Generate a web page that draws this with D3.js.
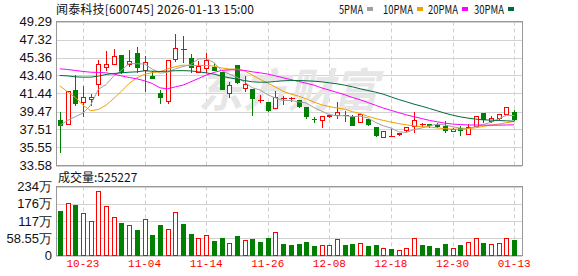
<!DOCTYPE html>
<html>
<head>
<meta charset="utf-8">
<script src="https://cdn.jsdelivr.net/npm/d3@7/dist/d3.min.js"></script>
<style>
	body { margin: 0; background: #fff; }
	svg text { font-family: "Noto Sans CJK SC", "Liberation Sans", sans-serif; }
</style>
</head>
<body>
<div id="root"></div>
<script>
const title = "闻泰科技[600745] 2026-01-13 15:00";
const volumeLabel = "成交量:525227";

const dates = ["10-20","10-21","10-22","10-23","10-24","10-27","10-28","10-29","10-30","10-31",
	"11-03","11-04","11-05","11-06","11-07","11-10","11-11","11-12","11-13","11-14",
	"11-17","11-18","11-19","11-20","11-21","11-24","11-25","11-26","11-27","11-28",
	"12-01","12-02","12-03","12-04","12-05","12-08","12-09","12-10","12-11","12-12",
	"12-15","12-16","12-17","12-18","12-19","12-22","12-23","12-24","12-25","12-26",
	"12-29","12-30","12-31","01-05","01-06","01-07","01-08","01-09","01-12","01-13"];

const opens = [38.53,38.16,41.80,40.56,40.85,42.42,44.38,44.60,45.62,44.67,
	45.84,44.02,43.33,41.44,40.64,45.15,46.24,45.36,43.80,44.27,
	44.35,43.80,41.51,44.53,42.05,41.95,40.75,40.49,39.87,40.93,
	40.96,40.78,39.95,38.67,38.49,39.00,39.11,39.11,38.89,38.38,
	38.60,37.73,36.64,36.85,36.98,37.44,37.87,38.16,38.13,37.98,
	37.87,37.29,37.62,37.07,37.87,39.36,38.45,38.78,39.25,39.40];
const highs = [39.55,41.80,43.55,42.35,41.47,45.15,46.16,46.38,45.73,46.27,
	46.60,45.62,43.98,41.98,45.04,48.02,47.80,45.80,45.07,45.95,
	44.82,43.80,42.78,44.53,43.44,41.95,41.36,40.60,41.80,41.22,
	41.18,40.78,40.05,39.00,39.11,39.25,40.60,39.62,39.15,39.25,
	38.71,37.73,37.29,37.62,37.18,37.87,39.55,38.35,38.20,38.31,
	38.49,37.80,37.95,38.27,39.04,39.36,39.07,39.25,40.02,39.69];
const lows = [35.00,38.10,40.16,38.96,40.13,41.29,43.98,44.60,43.62,44.45,
	43.80,41.73,43.15,40.42,40.35,45.00,44.89,43.73,43.80,43.73,
	43.98,41.91,41.07,42.53,41.69,39.11,40.53,39.55,39.87,40.24,
	40.64,39.98,38.75,38.35,37.80,38.89,38.78,38.45,37.98,38.31,
	38.05,36.78,36.64,36.78,36.87,37.33,37.25,37.87,37.73,37.73,
	37.22,37.29,36.93,37.07,37.87,38.35,38.38,38.67,39.15,38.53];
const closes = [38.02,41.76,40.42,41.00,41.00,44.60,44.64,45.51,43.80,45.00,
	44.35,44.82,43.15,41.07,45.04,46.35,46.24,44.35,44.42,45.07,
	43.98,41.98,42.31,42.64,42.45,40.93,40.75,39.62,41.07,40.93,
	40.96,40.05,39.00,38.60,38.93,39.07,39.40,39.11,38.05,39.15,
	38.13,36.93,37.29,36.85,37.10,37.73,38.53,38.16,38.05,37.91,
	37.40,37.55,37.40,37.80,38.93,38.60,38.75,39.15,39.91,38.67];
// 万手
const volumes = [152,178,172,144,116,219,168,130,111,103,
	87,123,70,103,89,147,106,72,58,68,
	48,59,41,65,51,55,44.5,58,79,38,
	34,38,44.5,31,34,34,55,34,38,43,
	31,34,26,20.5,19,27,58,34,31,27,
	38,24,34,47,58,41,38,41,58,52.52];

const ma5 = [37.95,38.50,38.90,39.30,40.15,41.90,42.40,43.35,43.95,44.71,
	44.68,44.65,44.10,43.66,43.75,44.12,44.37,44.61,45.20,45.25,
	44.81,43.96,43.55,43.20,42.67,42.06,41.82,41.28,40.96,40.66,
	40.67,40.53,40.40,39.91,39.51,39.13,39.00,39.02,38.91,38.96,
	38.77,38.27,37.91,37.67,37.26,37.18,37.50,37.67,37.91,38.08,
	38.01,37.81,37.66,37.61,37.82,38.06,38.30,38.65,39.07,39.02];
const ma10 = [42.27,41.62,41.00,40.16,39.55,39.69,40.16,40.89,41.69,42.53,
	43.15,43.52,43.72,43.80,44.12,44.36,44.53,44.48,44.50,44.49,
	44.43,44.22,44.10,44.10,43.90,43.44,42.98,42.55,42.15,41.68,
	41.38,41.15,40.85,40.50,40.20,40.00,39.85,39.72,39.45,39.25,
	38.95,38.70,38.50,38.32,38.15,38.02,37.90,37.80,37.78,37.68,
	37.60,37.55,37.53,37.58,37.70,37.85,37.98,38.10,38.25,38.38];
const ma20 = [44.13,44.05,43.95,43.84,43.76,43.73,43.69,43.55,43.36,43.18,
	43.04,42.82,42.53,42.05,41.95,42.16,42.35,42.71,43.07,43.44,
	43.73,43.95,44.02,44.02,43.95,43.80,43.69,43.55,43.36,43.15,
	42.95,42.75,42.55,42.35,42.05,41.80,41.55,41.30,41.00,40.75,
	40.45,40.15,39.85,39.60,39.35,39.10,38.90,38.70,38.50,38.35,
	38.20,38.10,38.05,38.00,38.00,37.98,37.98,37.98,38.00,38.02];
const ma30 = [43.40,43.36,43.25,43.22,43.22,43.33,43.51,43.62,43.69,43.76,
	43.80,43.91,43.87,43.84,43.87,43.92,43.93,43.90,43.80,43.69,
	43.55,43.33,43.15,43.00,42.85,42.71,42.67,42.67,42.75,42.82,
	42.85,42.85,42.82,42.78,42.71,42.60,42.49,42.35,42.16,41.95,
	41.76,41.58,41.36,41.07,40.78,40.53,40.27,40.05,39.80,39.55,
	39.29,39.07,38.89,38.75,38.64,38.56,38.53,38.49,38.45,38.42];

const priceTicks = [33.58, 35.55, 37.51, 39.47, 41.44, 43.40, 45.36, 47.32, 49.29];
const volumeTicks = [0, 58.55, 117.1, 175.65, 234.2];
const volumeTickLabels = ["0", "58.55万", "117万", "176万", "234万"];
const dateTicks = ["10-23", "11-04", "11-14", "11-26", "12-08", "12-18", "12-30", "01-13"];
const maNames = ["5PMA", "10PMA", "20PMA", "30PMA"];
const maColors = ["#a0a0a0", "#f0a000", "#ff00ff", "#006b3a"];

const RED = "#ff0000";
const GREEN = "#008000";

const size = { width: 578, height: 276 };
const frame = { left: 56, right: 522, top: 21.5, bottom: 165.5, volTop: 186.5, volBottom: 255.5 };

const svg = d3.select("#root")
	.append("svg")
		.attr("width", size.width)
		.attr("height", size.height);

const x = d3.scaleBand()
	.domain(d3.range(dates.length))
	.range([frame.left, 518]);
const cx = i => Math.round(x(i) + x.bandwidth() / 2) + 0.5;

const y = d3.scaleLinear()
	.domain([priceTicks[0], priceTicks[priceTicks.length - 1]])
	.range([frame.bottom, frame.top]);
const py = v => Math.round(y(v)) + 0.5;

const yVol = d3.scaleLinear()
	.domain([0, volumeTicks[volumeTicks.length - 1]])
	.range([frame.volBottom, frame.volTop]);

// price grid + labels
const priceAxis = svg.append("g")
	.attr("transform", `translate(${frame.left},0)`)
	.call(d3.axisLeft(y)
		.tickValues(priceTicks)
		.tickSize(-(frame.right - frame.left))
		.tickPadding(4)
		.tickFormat(d3.format(".2f")));

const volAxis = svg.append("g")
	.attr("transform", `translate(${frame.left},0)`)
	.call(d3.axisLeft(yVol)
		.tickValues(volumeTicks)
		.tickSize(-(frame.right - frame.left))
		.tickPadding(4)
		.tickFormat((d, i) => volumeTickLabels[i]));

[priceAxis, volAxis].forEach(ax => {
	ax.select(".domain").remove();
	ax.selectAll(".tick line")
		.attr("stroke", "#d2d2d2")
		.attr("shape-rendering", "crispEdges");
	ax.selectAll(".tick text")
		.attr("fill", "#111")
		.style("font-family", "'Liberation Sans', Arial, sans-serif")
		.style("font-size", "13px");
});

// vertical dashed date lines
const tickIdx = dateTicks.map(d => dates.indexOf(d));
[[frame.top, frame.bottom], [frame.volTop, frame.volBottom]].forEach(([t, b]) => {
	svg.append("g")
		.selectAll("line")
		.data(tickIdx).enter()
		.append("line")
			.attr("x1", cx).attr("x2", cx)
			.attr("y1", t).attr("y2", b)
			.attr("stroke", "#cfcfcf")
			.attr("stroke-dasharray", "4,3");
});

// watermark
svg.append("text")
	.attr("x", 198).attr("y", 107)
	.attr("fill", "#e6e6e6")
	.attr("textLength", 180)
	.attr("lengthAdjust", "spacingAndGlyphs")
	.style("font-size", "46px")
	.style("font-weight", "bold")
	.style("font-style", "italic")
	.text("东方财富");

// frames
[[frame.top, frame.bottom], [frame.volTop, frame.volBottom]].forEach(([t, b]) => {
	svg.append("rect")
		.attr("x", frame.left + 0.5).attr("y", t)
		.attr("width", frame.right - frame.left).attr("height", b - t)
		.attr("fill", "none")
		.attr("stroke", "#999")
		.attr("shape-rendering", "crispEdges");
});

// candles
const candles = svg.append("g")
	.selectAll(".candle")
	.data(dates.map((d, i) => ({ i, o: opens[i], h: highs[i], l: lows[i], c: closes[i] })))
	.enter()
	.append("g")
		.attr("class", "candle")
		.attr("shape-rendering", "crispEdges");

candles.each(function (d) {
	const g = d3.select(this);
	const up = d.c >= d.o;
	const col = up ? RED : GREEN;
	const top = py(Math.max(d.o, d.c));
	const bot = py(Math.min(d.o, d.c));
	const xc = cx(d.i);
	g.append("line")
		.attr("x1", xc).attr("x2", xc)
		.attr("y1", py(d.h)).attr("y2", top)
		.attr("stroke", col);
	g.append("line")
		.attr("x1", xc).attr("x2", xc)
		.attr("y1", bot).attr("y2", py(d.l))
		.attr("stroke", col);
	if (d.c > d.o) {
		g.append("rect")
			.attr("x", xc - 2).attr("y", top)
			.attr("width", 4).attr("height", Math.max(1, bot - top))
			.attr("fill", "#fff").attr("stroke", RED);
	} else if (d.c < d.o) {
		g.append("rect")
			.attr("x", xc - 2.5).attr("y", top - 0.5)
			.attr("width", 5).attr("height", Math.max(1, bot - top + 1))
			.attr("fill", GREEN);
	} else {
		g.append("line")
			.attr("x1", xc - 3).attr("x2", xc + 3)
			.attr("y1", top).attr("y2", top)
			.attr("stroke", RED);
	}
});

// moving averages
const line = d3.line()
	.x((d, i) => x(i) + x.bandwidth() / 2)
	.y(d => y(d));

[ma5, ma10, ma20, ma30].forEach((series, k) => {
	svg.append("path")
		.datum(series)
		.attr("d", line)
		.attr("fill", "none")
		.attr("stroke", maColors[k])
		.attr("stroke-width", 1);
});

// volume bars
svg.append("g")
	.attr("shape-rendering", "crispEdges")
	.selectAll(".vol")
	.data(volumes)
	.enter()
	.append("rect")
		.attr("class", "vol")
		.each(function (v, i) {
			const up = closes[i] > opens[i];
			const xc = cx(i);
			const t = Math.round(yVol(v)) + 0.5;
			const r = d3.select(this);
			if (up) {
				r.attr("x", xc - 2).attr("y", t)
					.attr("width", 4).attr("height", frame.volBottom - t)
					.attr("fill", "#fff").attr("stroke", RED);
			} else {
				r.attr("x", xc - 2.5).attr("y", t - 0.5)
					.attr("width", 5).attr("height", frame.volBottom - t + 0.5)
					.attr("fill", GREEN);
			}
		});

// date labels
const dateAxis = svg.append("g")
	.attr("transform", `translate(0,${frame.volBottom})`)
	.call(d3.axisBottom(x)
		.tickValues(tickIdx)
		.tickSize(0)
		.tickPadding(4)
		.tickFormat(i => dates[i]));
dateAxis.select(".domain").remove();
dateAxis.selectAll(".tick text")
	.attr("fill", RED)
	.style("font-family", "'Liberation Mono', monospace")
	.style("font-size", "11px");

// title + legend
svg.append("text")
	.attr("x", 56).attr("y", 14)
	.attr("fill", "#111")
	.attr("textLength", 198)
	.attr("lengthAdjust", "spacing")
	.style("font-size", "12px")
	.text(title);

const legendX = [339, 383, 428, 474];
const legend = svg.append("g")
	.selectAll("g")
	.data(maNames).enter()
	.append("g")
		.attr("transform", (d, i) => `translate(${legendX[i]},0)`);
legend.append("text")
	.attr("y", 14)
	.attr("fill", "#111")
	.attr("textLength", d => d.length * 6)
	.attr("lengthAdjust", "spacingAndGlyphs")
	.style("font-size", "12px")
	.text(d => d);
legend.append("rect")
	.attr("x", d => d.length * 6 + 4)
	.attr("y", 7)
	.attr("width", 6).attr("height", 4)
	.attr("fill", (d, i) => maColors[i]);

svg.append("text")
	.attr("x", 58).attr("y", 182)
	.attr("fill", "#111")
	.style("font-size", "12px")
	.text(volumeLabel);
</script>
</body>
</html>
